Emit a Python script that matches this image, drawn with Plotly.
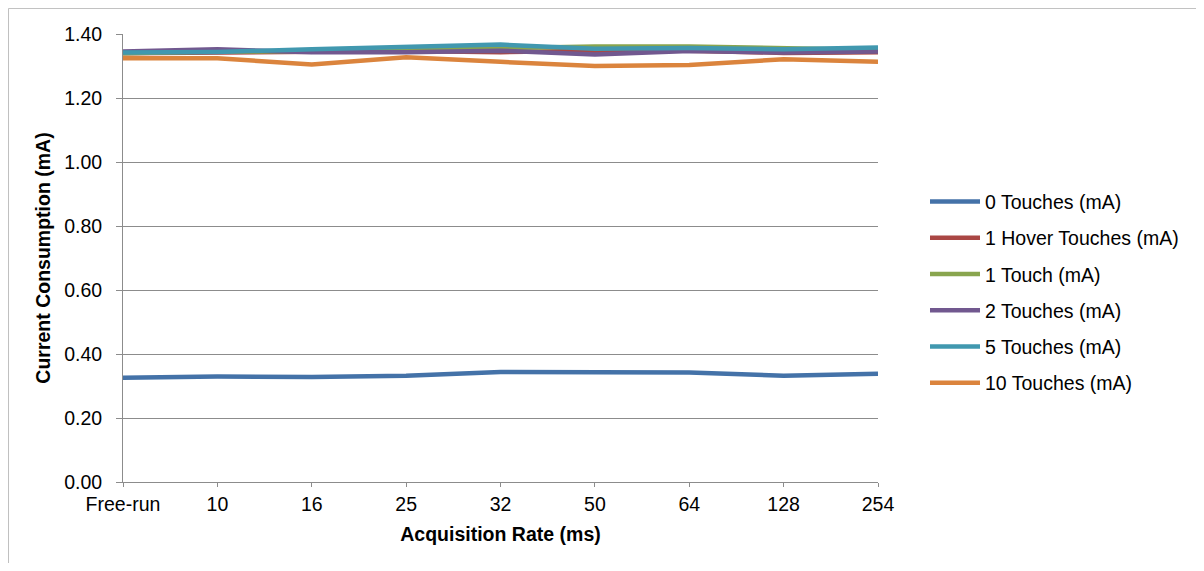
import plotly.graph_objects as go

categories = ["Free-run", "10", "16", "25", "32", "50", "64", "128", "254"]

touch0 = [0.326, 0.330, 0.328, 0.332, 0.344, 0.344, 0.342, 0.332, 0.338]
hover1 = [1.340, 1.342, 1.345, 1.347, 1.343, 1.348, 1.348, 1.341, 1.343]
touch1 = [1.340, 1.345, 1.346, 1.353, 1.356, 1.361, 1.361, 1.357, 1.350]
touch2 = [1.345, 1.352, 1.343, 1.343, 1.348, 1.336, 1.347, 1.342, 1.345]
touch5 = [1.342, 1.344, 1.352, 1.358, 1.367, 1.354, 1.356, 1.352, 1.358]
touch10 = [1.324, 1.324, 1.305, 1.327, 1.313, 1.300, 1.303, 1.321, 1.313]

series = [
    ("0 Touches (mA)", touch0, "#4472A8"),
    ("1 Hover Touches (mA)", hover1, "#AA4744"),
    ("1 Touch (mA)", touch1, "#89A54E"),
    ("2 Touches (mA)", touch2, "#71588F"),
    ("5 Touches (mA)", touch5, "#4198AF"),
    ("10 Touches (mA)", touch10, "#DB843D"),
]

fig = go.Figure()
for i, (name, vals, color) in enumerate(series):
    fig.add_trace(go.Scatter(
        x=categories, y=vals, name=name, mode="lines",
        line=dict(color=color, width=4.5),
        legendgroup=str(i),
    ))

FS = 19.5
font_family = "Liberation Sans, Arial, sans-serif"
# page body has an 8px margin; plot area in page coords: x 123-878, y 34-482
L, T, PW, PH = 115, 26, 755, 448
W, H = 1188, 555
bx = -L / PW + 0.0007
by = 1 + T / PH - 0.001
fig.update_layout(
    width=W, height=H,
    margin=dict(l=L, r=W - L - PW, t=T, b=H - T - PH),
    paper_bgcolor="white", plot_bgcolor="white",
    font=dict(family=font_family, size=FS, color="black"),
    showlegend=True,
    legend=dict(x=(925 - 123) / PW, y=0.669, xanchor="left", yanchor="top",
                font=dict(size=FS), tracegroupgap=7.9, traceorder="grouped",
                itemwidth=50, bgcolor="rgba(0,0,0,0)"),
    xaxis=dict(
        type="category", range=[0, 8],
        showgrid=False, showline=True, linecolor="#8c8c8c", linewidth=1,
        ticks="outside", ticklen=4, tickcolor="#8c8c8c",
        ticklabelstandoff=1,
        title=dict(text="<b>Acquisition Rate (ms)</b>", font=dict(size=FS), standoff=12),
    ),
    yaxis=dict(
        range=[0, 1.4], tickvals=[0, 0.2, 0.4, 0.6, 0.8, 1.0, 1.2, 1.4],
        tickformat=".2f",
        showgrid=True, gridcolor="#8c8c8c", gridwidth=1,
        showline=True, linecolor="#8c8c8c", linewidth=1,
        ticks="outside", ticklen=6, tickcolor="#8c8c8c",
        ticklabelstandoff=10, zeroline=False,
        title=dict(text="<b>Current Consumption (mA)</b>", font=dict(size=FS), standoff=8),
    ),
    shapes=[
        dict(type="line", xref="paper", yref="paper",
             x0=bx, x1=bx, y0=-(H - T - PH) / PH, y1=by,
             line=dict(color="#bfbfbf", width=1), layer="below"),
        dict(type="line", xref="paper", yref="paper",
             x0=bx, x1=(W - L) / PW, y0=by, y1=by,
             line=dict(color="#bfbfbf", width=1), layer="below"),
    ],
)

fig.write_html("out.html")
